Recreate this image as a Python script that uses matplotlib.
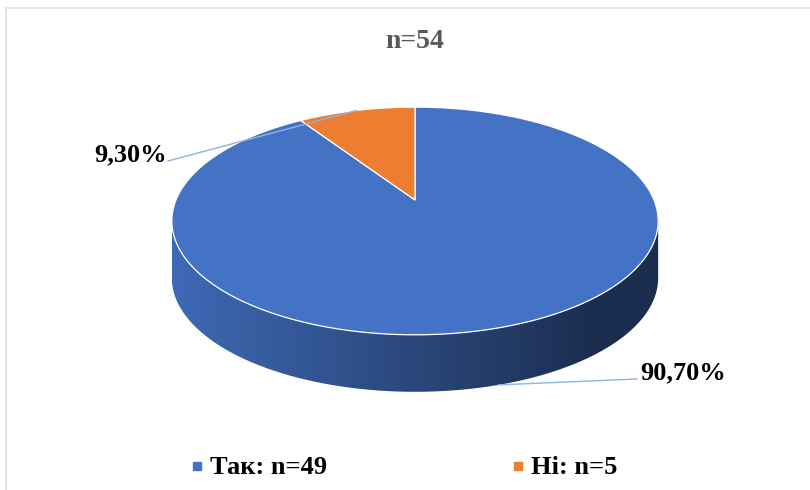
import numpy as np
import matplotlib
matplotlib.use("Agg")
import matplotlib.pyplot as plt
from matplotlib.patches import Polygon
from matplotlib.colors import to_rgb

# Survey answers (share of respondents, %)
categories = ["Так: n=49", "Ні: n=5"]
shares = [90.7, 9.3]
share_labels = ["90,70%", "9,30%"]
colors = ["#4472C4", "#ED7D31"]
title = "n=54"

W, H = 810, 490
fig = plt.figure(figsize=(W / 100, H / 100), dpi=100)
ax = fig.add_axes([0, 0, 1, 1])
ax.set_xlim(0, W)
ax.set_ylim(H, 0)
ax.axis("off")

# Perspective disk: centre, radii, tilt distortion and thickness (pixels)
CX, CY = 415.0, 200.0
A, B, K = 239.0, 110.0, 0.184
DEPTH = 57.0


def proj(theta_deg, drop=0.0):
    t = np.radians(theta_deg)
    X, Y = np.cos(t), np.sin(t)
    s = 1.0 / (1.0 + K * Y)
    return CX + A * X * s, CY - B * Y * s + drop


# Slices run clockwise from 12 o'clock
total = sum(shares)
bounds = []
start = 90.0
for v in shares:
    end = start - 360.0 * v / total
    bounds.append((start, end))
    start = end

# Visible front side spans the angles between the two silhouette points
th_r = np.degrees(np.arcsin(-K))
th_l = 180.0 - th_r

for (a0, a1), col in zip(bounds, colors):
    segs = []
    for shift in (-720, -360, 0, 360):
        s_hi, s_lo = a0 + shift, a1 + shift
        lo_c = max(s_lo, th_l)
        hi_c = min(s_hi, 360 + th_r)
        if hi_c > lo_c:
            segs.append((lo_c, hi_c))
    for lo_c, hi_c in segs:
        th = np.linspace(lo_c, hi_c, 200)
        xt, yt = proj(th)
        xb, yb = proj(th[::-1], DEPTH)
        poly = np.column_stack([np.r_[xt, xb], np.r_[yt, yb]])
        patch = Polygon(poly, closed=True, facecolor="none", edgecolor="none")
        ax.add_patch(patch)
        base = np.array(to_rgb(col))
        light, dark = base * 0.92, base * 0.4
        x0, x1 = poly[:, 0].min(), poly[:, 0].max()
        y0, y1 = poly[:, 1].min(), poly[:, 1].max()
        xs = np.linspace(x0, x1, 400)
        tt = np.clip((xs - 175.0) / (595.0 - 175.0), 0, 1)
        grad = light[None, :] * (1 - tt[:, None]) + dark[None, :] * tt[:, None]
        img = np.repeat(grad[None, :, :], 2, axis=0)
        im = ax.imshow(img, extent=(x0, x1, y1, y0), aspect="auto",
                       interpolation="bilinear", zorder=1)
        im.set_clip_path(patch)

# Top face of each slice
for (a0, a1), col in zip(bounds, colors):
    th = np.linspace(a0, a1, 300)
    xa, ya = proj(th)
    poly = np.column_stack([np.r_[CX, xa], np.r_[CY, ya]])
    ax.add_patch(Polygon(poly, closed=True, facecolor=col,
                         edgecolor="white", linewidth=0.9, zorder=2))

# Data labels with leader lines
leader = "#8EB4E3"
mid_big = (bounds[0][0] + bounds[0][1]) / 2
mid_small = (bounds[1][0] + bounds[1][1]) / 2
bx, by = proj(mid_big, DEPTH)
sx, sy = proj(mid_small)
ax.plot([637, bx], [379, by], color=leader, lw=1.0, zorder=3)
ax.plot([168, sx], [161, sy], color=leader, lw=1.0, zorder=3)

font = ["Liberation Serif", "DejaVu Serif"]
ax.text(640, 373, share_labels[0], fontsize=19, fontweight="bold",
        family=font, ha="left", va="center", color="black", zorder=4)
ax.text(167, 155, share_labels[1], fontsize=19, fontweight="bold",
        family=font, ha="right", va="center", color="black", zorder=4)

# Title
ax.text(415, 41, title, fontsize=20, fontweight="bold", family=font,
        ha="center", va="center", color="#595959")

# Legend
leg_x = [197, 518]
for lx, lab, col in zip(leg_x, categories, colors):
    ax.plot([lx], [466], marker="s", markersize=6, color=col, zorder=4)
    ax.text(lx + 13, 467, lab, fontsize=19, fontweight="bold", family=font,
            ha="left", va="center", color="black")

# Chart frame (left and top edges)
ax.plot([6, 6], [8, H], color="#D5E3F4", lw=1.2)
ax.plot([6, W], [8, 8], color="#D5E3F4", lw=1.2)

fig.savefig("out.png", dpi=100)
